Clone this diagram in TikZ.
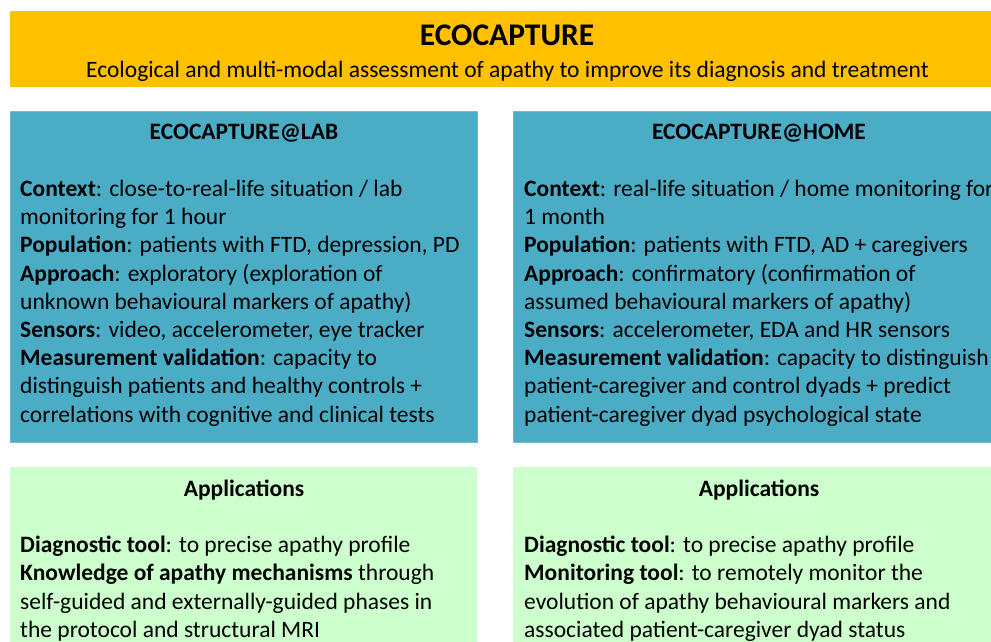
\documentclass[tikz,border=0pt]{standalone}
\usepackage{fontspec}
\setmainfont{Carlito}
\definecolor{ybox}{HTML}{FFC000}
\definecolor{bbox}{HTML}{4BACC6}
\definecolor{bedge}{HTML}{6DBCD3}
\definecolor{gbox}{HTML}{CCFFCC}
\tikzset{
  body/.style={anchor=north west, align=left, inner sep=0pt, font=\fontsize{23.5}{28.2}\selectfont},
  head/.style={inner sep=0pt, font=\fontsize{23.5}{28}\selectfont\bfseries},
  bluebox/.style={fill=bbox, draw=bedge, line width=1pt},
  greenbox/.style={fill=gbox},
}
\begin{document}
\begin{tikzpicture}[x=1pt,y=-1pt]
\useasboundingbox (0,0) rectangle (991,641);
\fill[white] (0,0) rectangle (991,641);
% title
\fill[ybox] (10,11) rectangle (1005,87);
\node[inner sep=0pt, font=\fontsize{31.5}{36}\selectfont\bfseries] (title) at (507,35) {ECOCAPTURE};
\node[inner sep=0pt, font=\fontsize{23.5}{28}\selectfont] (sub) at (507.5,71) {Ecological and multi-modal assessment of apathy to improve its diagnosis and treatment};
% blue boxes
\draw[bluebox] (10,111) rectangle (477,442);
\draw[bluebox] (513,111) rectangle (1010,442);
\node[head] (labh) at (244,133) {ECOCAPTURE@LAB};
\node[head] (homeh) at (759,133) {ECOCAPTURE@HOME};
\node[body] (labt) at (20,180) {\textbf{Context}: close-to-real-life situation / lab\\
monitoring for 1 hour\\
\textbf{Population}: patients with FTD, depression, PD\\
\textbf{Approach}: exploratory (exploration of\\
unknown behavioural markers of apathy)\\
\textbf{Sensors}: video, accelerometer, eye tracker\\
\textbf{Measurement validation}: capacity to\\
distinguish patients and healthy controls +\\
correlations with cognitive and clinical tests};
\node[body] (homet) at (524,180) {\textbf{Context}: real-life situation / home monitoring for\\
1 month\\
\textbf{Population}: patients with FTD, AD + caregivers\\
\textbf{Approach}: confirmatory (confirmation of\\
assumed behavioural markers of apathy)\\
\textbf{Sensors}: accelerometer, EDA and HR sensors\\
\textbf{Measurement validation}: capacity to distinguish\\
patient-caregiver and control dyads + predict\\
patient-caregiver dyad psychological state};
% green boxes
\fill[greenbox] (10,467) rectangle (477,650);
\fill[greenbox] (513,467) rectangle (1010,650);
\node[head] (laba) at (244,490) {Applications};
\node[head] (homea) at (759,490) {Applications};
\node[body] (labat) at (20,536) {\textbf{Diagnostic tool}: to precise apathy profile\\
\textbf{Knowledge of apathy mechanisms} through\\
self-guided and externally-guided phases in\\
the protocol and structural MRI};
\node[body] (homeat) at (524,536) {\textbf{Diagnostic tool}: to precise apathy profile\\
\textbf{Monitoring tool}: to remotely monitor the\\
evolution of apathy behavioural markers and\\
associated patient-caregiver dyad status};
\end{tikzpicture}
\end{document}
